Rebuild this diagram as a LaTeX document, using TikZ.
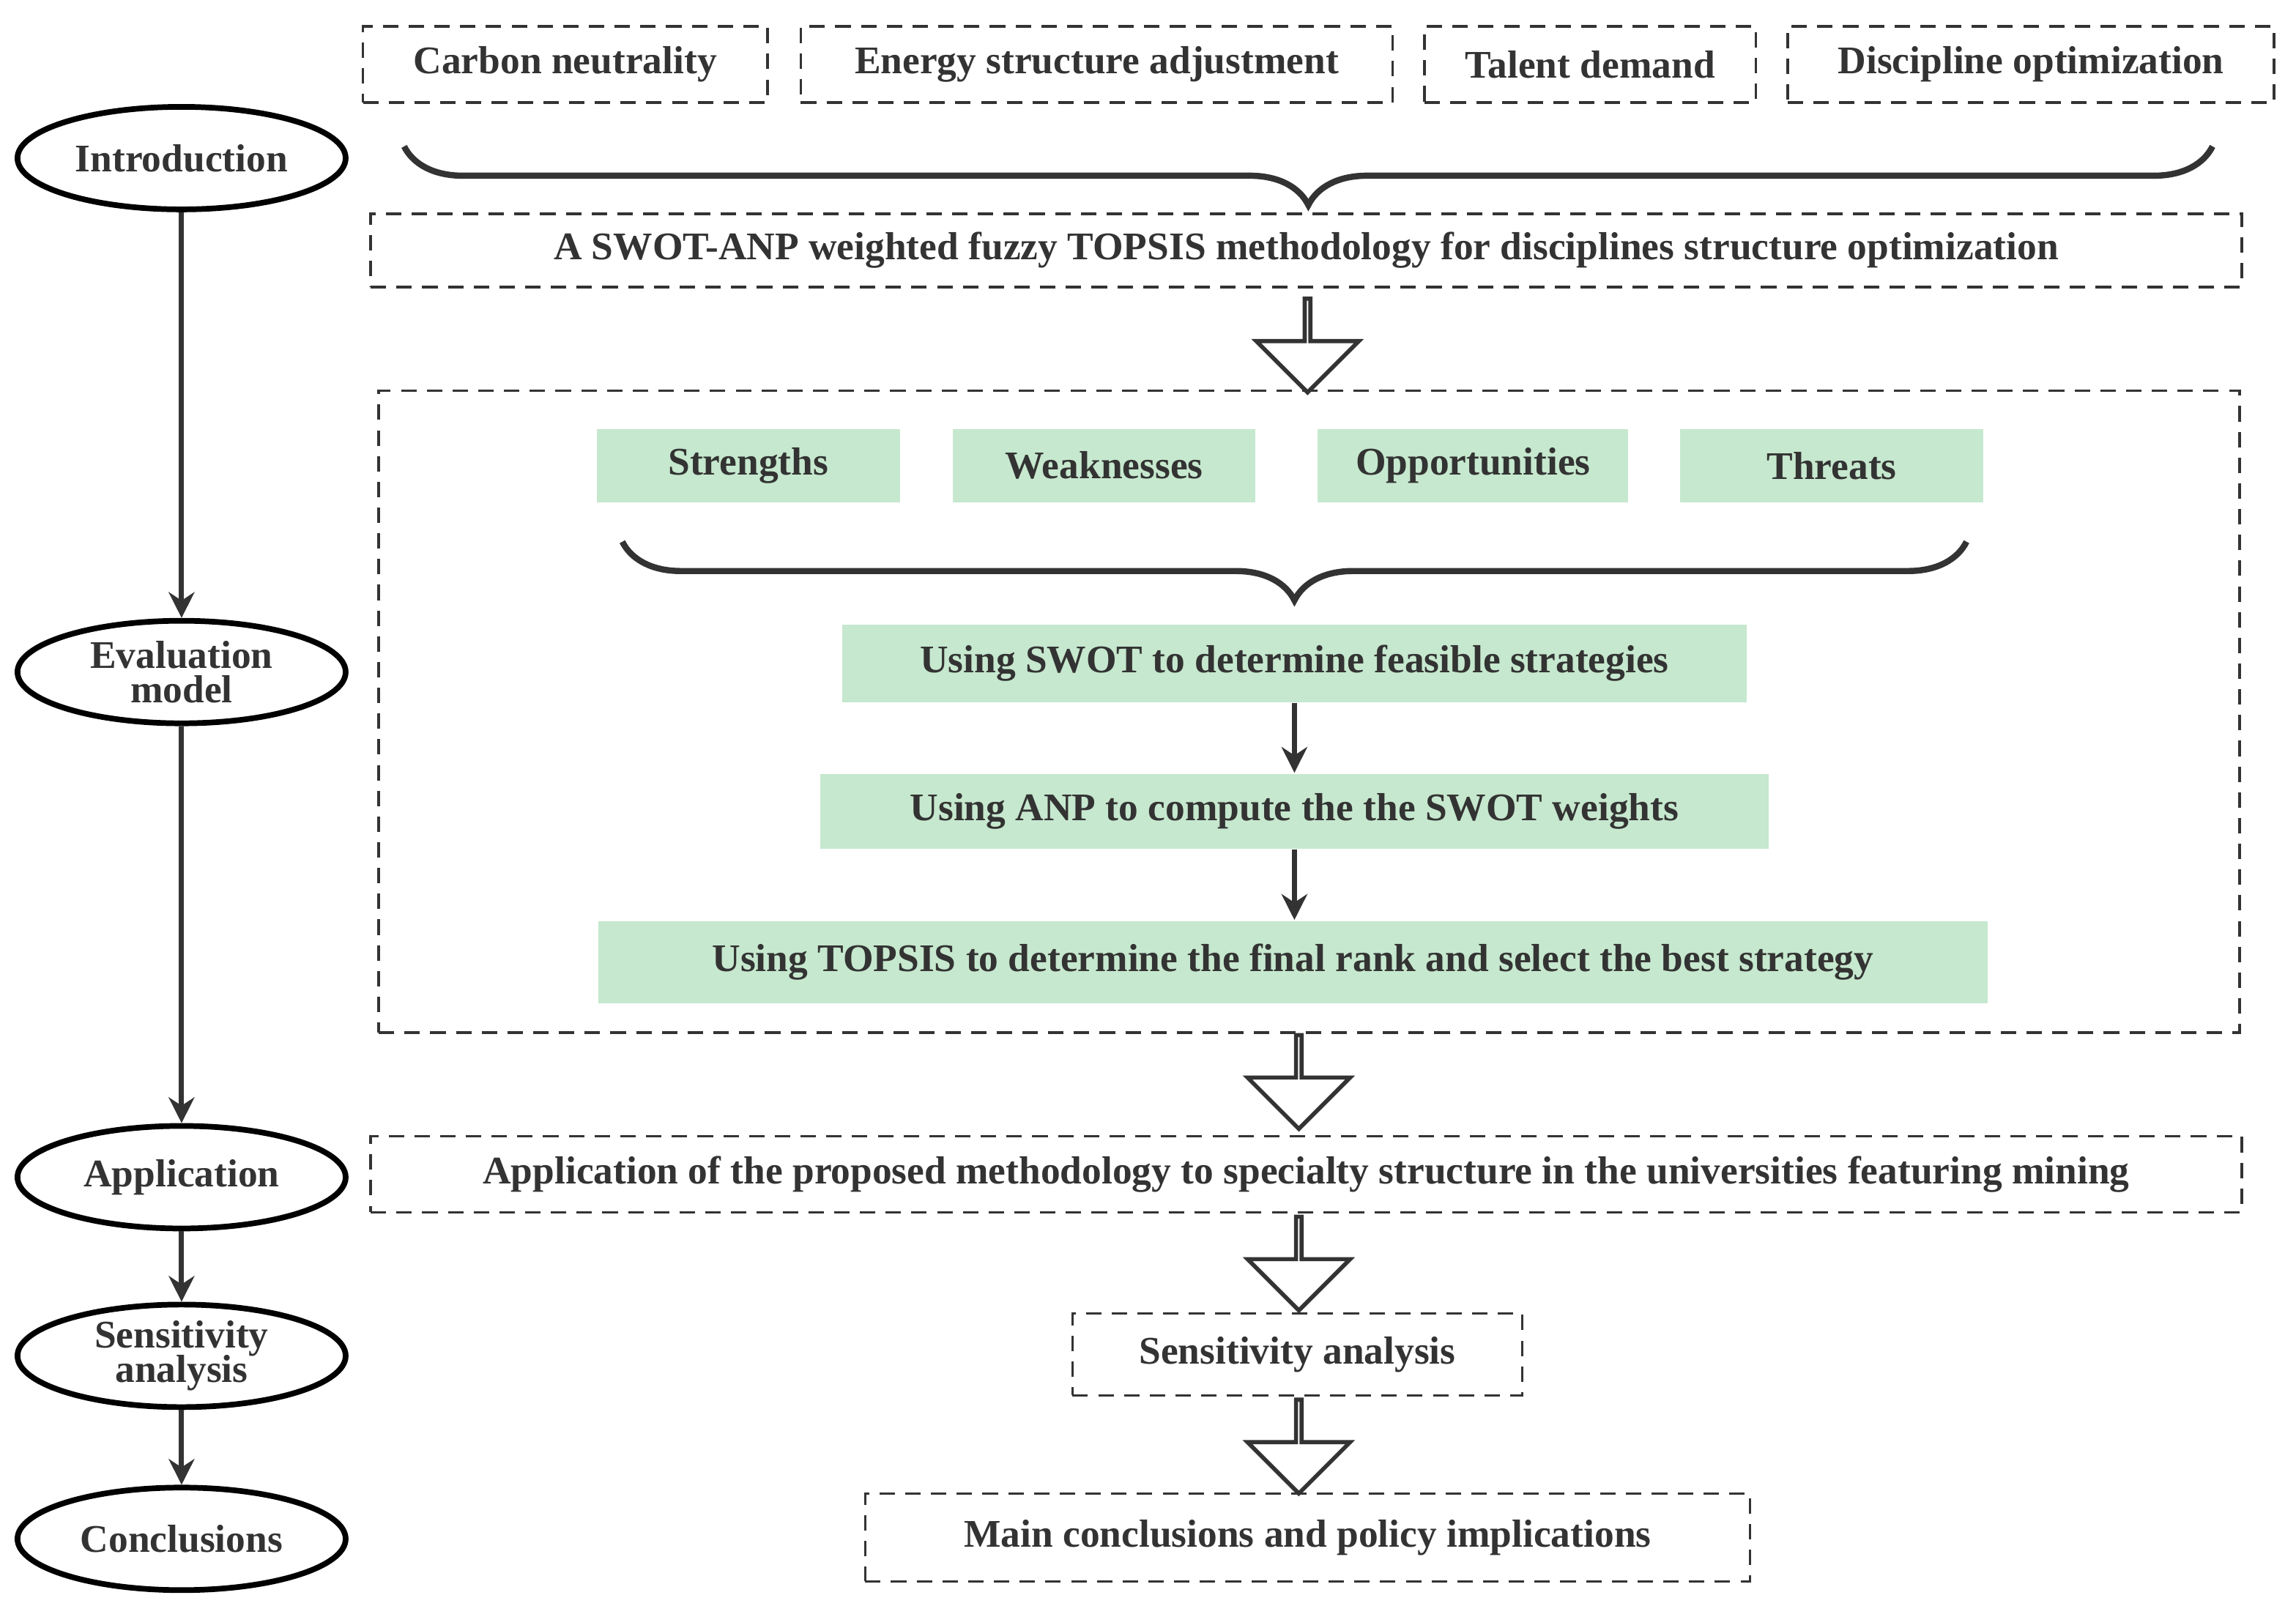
\documentclass[tikz,border=0pt]{standalone}
\usepackage{fontspec}
\setmainfont{Liberation Serif}
\usetikzlibrary{shapes.geometric, shapes.arrows, decorations.pathreplacing, arrows.meta}
\definecolor{ink}{HTML}{333333}
\definecolor{swotgreen}{HTML}{C6E8CE}
\begin{document}
\begin{tikzpicture}[x=0.01cm, y=-0.01cm,
    every node/.style={font=\fontsize{7.6}{8.6}\selectfont\bfseries, text=ink},
    dbox/.style={draw=ink, dashed, line width=0.5pt, inner sep=0pt, dash pattern=on 3pt off 2pt},
    gbox/.style={fill=swotgreen, inner sep=0pt},
    stage/.style={draw=black, ellipse, line width=1.1pt, minimum width=2.24cm, minimum height=0.7cm, inner sep=0pt, align=center},
    hollow/.style={draw=ink, single arrow, shape border rotate=270, line width=0.8pt, minimum width=0.7cm, minimum height=0.64cm, single arrow head extend=0.24cm, inner sep=0pt},
    link/.style={draw=ink, line width=1pt, -{Stealth[length=5pt, width=5pt]}},
    curly/.style={draw=ink, line width=1.2pt, decorate, decoration={brace, mirror, amplitude=0.4cm}}]
  \useasboundingbox (0,0) rectangle (1568,1104);

  % Stages (left)
  \node[stage] (intro) at (124,108) {Introduction};
  \node[stage] (model) at (124,459) {Evaluation\\[-2pt]model};
  \node[stage] (appl) at (124,804) {Application};
  \node[stage] (sens) at (124,926) {Sensitivity\\[-2pt]analysis};
  \node[stage] (concl) at (124,1051) {Conclusions};

  \draw[link] (intro) -- (model);
  \draw[link] (model) -- (appl);
  \draw[link] (appl) -- (sens);
  \draw[link] (sens) -- (concl);

  % Background
  \node[dbox, minimum width=2.76cm, minimum height=0.52cm] (carbon) at (386,44) {Carbon neutrality};
  \node[dbox, minimum width=4.04cm, minimum height=0.52cm] (energy) at (749,44) {Energy structure adjustment};
  \node[dbox, minimum width=2.26cm, minimum height=0.52cm] (talent) at (1086,44) {Talent demand};
  \node[dbox, minimum width=3.32cm, minimum height=0.52cm] (disc) at (1387,44) {Discipline optimization};
  \draw[curly] (276,100) -- (1511,100);

  \node[dbox, minimum width=12.77cm, minimum height=0.5cm] (method) at (892,171) {A SWOT-ANP weighted fuzzy TOPSIS methodology for disciplines structure optimization};
  \node[hollow] (h1) at (893,235) {};

  % Evaluation model
  \node[dbox, minimum width=12.7cm, minimum height=4.38cm] (frame) at (894,486) {};
  \node[gbox, minimum width=2.07cm, minimum height=0.5cm] (str) at (511,318) {Strengths};
  \node[gbox, minimum width=2.06cm, minimum height=0.5cm] (weak) at (754,318) {Weaknesses};
  \node[gbox, minimum width=2.12cm, minimum height=0.5cm] (opp) at (1006,318) {Opportunities};
  \node[gbox, minimum width=2.07cm, minimum height=0.5cm] (thr) at (1251,318) {Threats};
  \draw[curly] (425,370) -- (1343,370);

  \node[gbox, minimum width=6.17cm, minimum height=0.53cm] (swot) at (884,453) {Using SWOT to determine feasible strategies};
  \node[gbox, minimum width=6.47cm, minimum height=0.51cm] (anp) at (884,554) {Using ANP to compute the the SWOT weights};
  \node[gbox, minimum width=9.48cm, minimum height=0.56cm] (topsis) at (883,657) {Using TOPSIS to determine the final rank and select the best strategy};
  \draw[link] (swot) -- (anp);
  \draw[link] (anp) -- (topsis.north -| anp.south);

  \node[hollow] (h2) at (887,738) {};
  \node[dbox, minimum width=12.77cm, minimum height=0.52cm] (apply) at (892,802) {Application of the proposed methodology to specialty structure in the universities featuring mining};
  \node[hollow] (h3) at (887,862) {};
  \node[dbox, minimum width=3.07cm, minimum height=0.56cm] (sa) at (886,925) {Sensitivity analysis};
  \node[hollow] (h4) at (887,987) {};
  \node[dbox, minimum width=6.04cm, minimum height=0.6cm] (main) at (893,1050) {Main conclusions and policy implications};
\end{tikzpicture}
\end{document}
